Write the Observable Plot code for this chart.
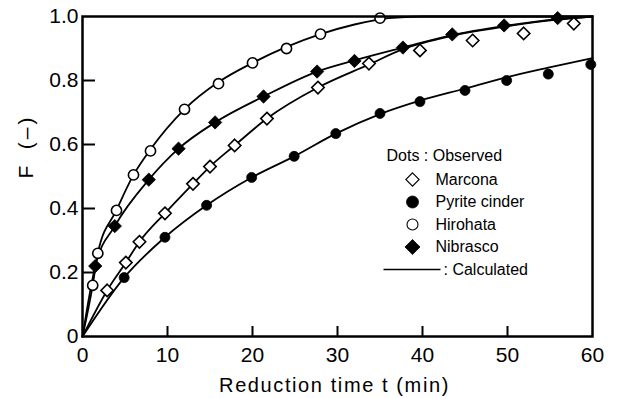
<!DOCTYPE html>
<html><head><meta charset="utf-8">
<script src="https://cdn.jsdelivr.net/npm/d3@7"></script>
<script src="https://cdn.jsdelivr.net/npm/@observablehq/plot@0.6"></script>
<style>
html,body{margin:0;padding:0;background:#fff;}
</style></head><body><div id="chart"></div>
<script>
// Tick values
const xTicks = [0, 10, 20, 30, 40, 50, 60];
const yTicks = [0, 0.2, 0.4, 0.6, 0.8, 1.0];

const marconaT = [2.9, 5.1, 6.7, 9.7, 13, 15, 17.9, 21.7, 27.7, 33.7, 39.7, 45.9, 51.9, 57.8];
const marconaF = [0.144, 0.231, 0.296, 0.385, 0.477, 0.531, 0.597, 0.681, 0.778, 0.853, 0.894, 0.925, 0.947, 0.978];
const pyriteT = [4.9, 9.7, 14.6, 19.9, 24.9, 29.8, 35, 39.7, 45, 49.9, 54.8, 59.8];
const pyriteF = [0.184, 0.31, 0.41, 0.497, 0.563, 0.634, 0.697, 0.734, 0.769, 0.80, 0.82, 0.85];
const hirohataT = [1.2, 1.8, 4, 6, 8, 12, 16, 20, 24, 28, 35];
const hirohataF = [0.16, 0.26, 0.394, 0.505, 0.58, 0.71, 0.79, 0.855, 0.90, 0.945, 0.995];
const nibrascoT = [1.5, 3.8, 7.8, 11.3, 15.6, 21.3, 27.6, 32, 37.7, 43.5, 49.6, 55.9];
const nibrascoF = [0.22, 0.345, 0.49, 0.587, 0.669, 0.75, 0.828, 0.861, 0.903, 0.944, 0.972, 0.995];

// Calculated curves
const marconaCalcT = [0, 2.9, 5.1, 6.7, 9.7, 13, 15, 17.9, 21.7, 27.7, 33.7, 37.7, 43.5, 49.6, 55.9, 60];
const marconaCalcF = [0, 0.144, 0.231, 0.296, 0.385, 0.477, 0.531, 0.597, 0.681, 0.778, 0.85, 0.898, 0.94, 0.968, 0.99, 1.0];
const pyriteCalcT = [0, 4.9, 9.7, 14.6, 19.9, 24.9, 29.8, 35, 39.7, 45, 49.9, 54.8, 60];
const pyriteCalcF = [0, 0.184, 0.31, 0.41, 0.497, 0.563, 0.634, 0.695, 0.737, 0.775, 0.81, 0.84, 0.87];
const hirohataCalcT = [0, 1.2, 1.8, 4, 6, 8, 12, 16, 20, 24, 28, 32, 36, 40, 60];
const hirohataCalcF = [0, 0.16, 0.26, 0.395, 0.505, 0.585, 0.71, 0.795, 0.855, 0.905, 0.945, 0.975, 0.995, 1.0, 1.0];
const nibrascoCalcT = [0, 1.5, 3.8, 7.8, 11.3, 15.6, 21.3, 27.6, 32, 37.7, 43.5, 49.6, 55.9, 60];
const nibrascoCalcF = [0, 0.22, 0.345, 0.49, 0.587, 0.669, 0.75, 0.828, 0.863, 0.903, 0.942, 0.97, 0.992, 1.0];

const seriesNames = ["Marcona", "Pyrite cinder", "Hirohata", "Nibrasco"];
const obsT = [marconaT, pyriteT, hirohataT, nibrascoT];
const obsF = [marconaF, pyriteF, hirohataF, nibrascoF];
const calcT = [marconaCalcT, pyriteCalcT, hirohataCalcT, nibrascoCalcT];
const calcF = [marconaCalcF, pyriteCalcF, hirohataCalcF, nibrascoCalcF];

// marker styles
const styles = [
  {symbol: "diamond2", fill: "white", r: 5.6, sw: 1.6, lr: 6, lsw: 1.1},
  {symbol: "circle", fill: "black", r: 5, sw: 0.8, lr: 6, lsw: 0.8},
  {symbol: "circle", fill: "white", r: 5.1, sw: 1.6, lr: 5.5, lsw: 1.1},
  {symbol: "diamond2", fill: "black", r: 6, sw: 0.8, lr: 6.8, lsw: 0.8}
];

const obs = seriesNames.map((name, i) => obsT[i].map((t, j) => ({name, t, F: obsF[i][j]})));
const calc = seriesNames.map((name, i) => calcT[i].map((t, j) => ({name, t, F: calcF[i][j]})));

const font = "'Liberation Sans', Arial, Helvetica, sans-serif";
const xLabel = "Reduction time t (min)";
const yLabel = "F\u2002(\u2013)";

const lineSymbol = {draw(ctx) { ctx.moveTo(-28.5, 0); ctx.lineTo(28.5, 0); }};

const marks = [];
calc.forEach(d => marks.push(Plot.line(d, {x: "t", y: "F", curve: "monotone-x", stroke: "black", strokeWidth: 1.8})));
obs.forEach((d, i) => {
  const s = styles[i];
  marks.push(Plot.dot(d, {x: "t", y: "F", symbol: s.symbol, r: s.r, fill: s.fill, stroke: "black", strokeWidth: s.sw}));
});
marks.push(Plot.frame({stroke: "black", strokeWidth: 2.5}));
marks.push(Plot.ruleX(xTicks.slice(1, -1), {stroke: "black", strokeWidth: 2, insetTop: 310}));
marks.push(Plot.ruleY(yTicks.slice(1, -1), {stroke: "black", strokeWidth: 2, insetRight: 497}));
marks.push(Plot.axisX({ticks: xTicks, tickSize: 0, tickPadding: 11, tickFormat: d => String(d), label: null, fontSize: 21}));
marks.push(Plot.axisY({ticks: yTicks, tickSize: 0, tickPadding: 4, tickFormat: d => d === 0 ? "0" : d.toFixed(1), label: null, fontSize: 21}));
marks.push(Plot.text([xLabel], {frameAnchor: "bottom", dx: -3, dy: 49, fontSize: 20, lineAnchor: "middle"}));
marks.push(Plot.text([yLabel], {frameAnchor: "left", dx: -56, dy: 2, rotate: -90, fontSize: 21, lineAnchor: "middle"}));

// legend
marks.push(Plot.text(["Dots : Observed"], {frameAnchor: "top-left", dx: 304, dy: 139, textAnchor: "start", lineAnchor: "middle", fontSize: 16}));
seriesNames.forEach((name, i) => {
  const s = styles[i];
  const dy = 163 + i * 22.5;
  marks.push(Plot.dot([name], {frameAnchor: "top-left", dx: 330, dy, symbol: s.symbol, r: s.lr, fill: s.fill, stroke: "black", strokeWidth: s.lsw}));
  marks.push(Plot.text([name], {frameAnchor: "top-left", dx: 353, dy, textAnchor: "start", lineAnchor: "middle", fontSize: 16}));
});
marks.push(Plot.dot(["calc"], {frameAnchor: "top-left", dx: 329.5, dy: 253, symbol: lineSymbol, fill: "none", stroke: "black", strokeWidth: 1.3}));
marks.push(Plot.text([": Calculated"], {frameAnchor: "top-left", dx: 361, dy: 253, textAnchor: "start", lineAnchor: "middle", fontSize: 16}));

const chart = Plot.plot({
  width: 617,
  height: 398,
  marginLeft: 82,
  marginRight: 25,
  marginTop: 16,
  marginBottom: 62,
  x: {domain: [0, 60]},
  y: {domain: [0, 1]},
  style: {fontFamily: font, fontSize: "21px", color: "black", background: "white"},
  marks
});
// letter spacing for the axis titles
d3.select(chart).selectAll("text").each(function() {
  const t = this.textContent;
  if (t === xLabel) this.style.letterSpacing = "1.6px";
  if (t === yLabel) this.style.letterSpacing = "3px";
});
document.getElementById("chart").appendChild(chart);
</script></body></html>
